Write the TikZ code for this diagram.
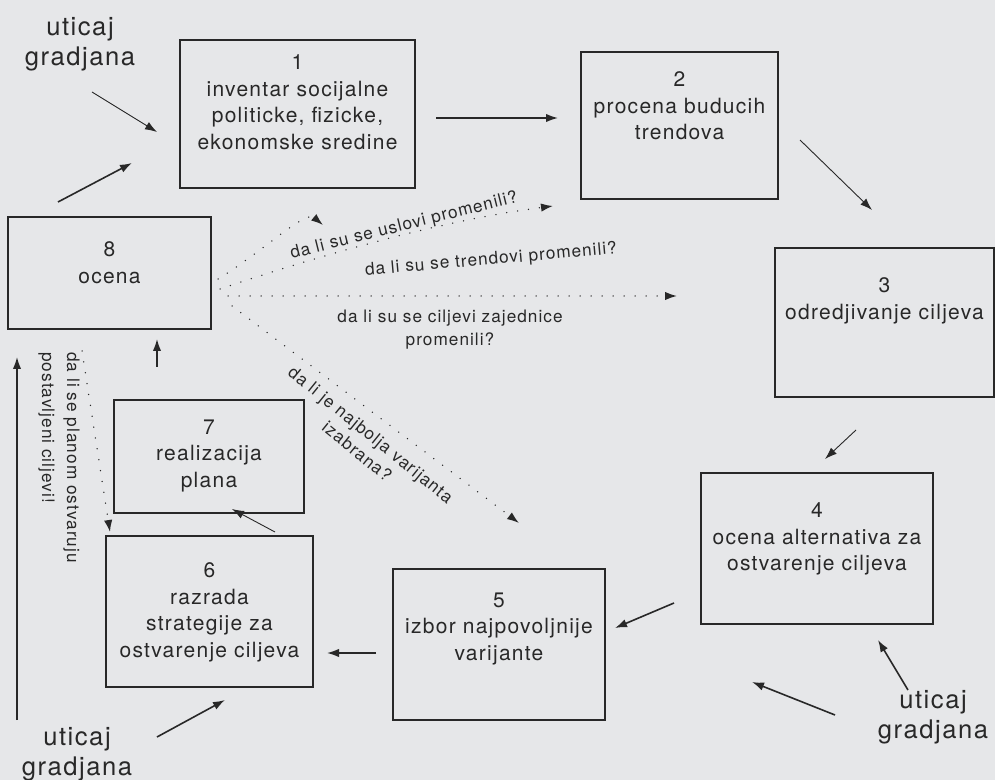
\documentclass[tikz,border=0pt]{standalone}
\usepackage{fontspec}
\setmainfont{TeX Gyre Heros}[LetterSpace=6]
\usetikzlibrary{positioning,arrows.meta}
\definecolor{paper}{RGB}{230,231,233}
\definecolor{ink}{RGB}{40,40,40}
\tikzset{%
    stage/.style={%
        draw=ink, line width=0.6pt, inner sep=0pt
    },
    stagetext/.style={%
        text=ink, align=center, inner sep=0pt,
        font=\fontsize{10.5}{13.3}\selectfont
    },
    citizens/.style={%
        text=ink, align=center, inner sep=0pt,
        font=\fontsize{12.8}{15}\selectfont
    },
    query/.style={%
        text=ink, inner sep=0pt, font=\fontsize{8.6}{11.5}\selectfont
    },
    flow/.style={%
        draw=ink, line width=0.8pt, -{Latex[length=6pt,width=4.2pt]}
    },
    thinflow/.style={%
        flow, line width=0.45pt
    },
    dots/.style={%
        draw=ink, line width=0.75pt, line cap=round,
        dash pattern=on 0pt off 5.5pt, -{Latex[length=6pt,width=4.2pt]}
    }
}

\begin{document}
\begin{tikzpicture}[x=0.5pt, y=-0.5pt]
    \fill[paper] (0,0) rectangle (995,780);
    \useasboundingbox (0,0) rectangle (995,780);

    % stages
    \node[stage, minimum width=117.5pt, minimum height=74pt] (inventar) at (297.5,114) {};
    \node[stage, minimum width=98.5pt, minimum height=73.5pt] (trendovi) at (679.5,125.5) {};
    \node[stage, minimum width=109.5pt, minimum height=74.5pt] (ciljevi) at (884.5,322.5) {};
    \node[stage, minimum width=116pt, minimum height=75.5pt] (alternative) at (817,548.5) {};
    \node[stage, minimum width=106pt, minimum height=75.5pt] (izbor) at (499,644.5) {};
    \node[stage, minimum width=103.5pt, minimum height=75.5pt] (razrada) at (209.5,611.5) {};
    \node[stage, minimum width=95pt, minimum height=56.5pt] (realizacija) at (209,456.5) {};
    \node[stage, minimum width=101.5pt, minimum height=56pt] (ocena) at (109.5,273) {};

    \node[stagetext, below=7.5pt of inventar.north] (inventar-t)
        {1\\inventar socijalne\\politicke, fizicke,\\ekonomske sredine};
    \node[stagetext, below=10pt of trendovi.north] (trendovi-t)
        {2\\procena buducih\\trendova};
    \node[stagetext, below=15pt of ciljevi.north] (ciljevi-t)
        {3\\odredjivanje ciljeva};
    \node[stagetext, below=15pt of alternative.north] (alternative-t)
        {4\\ocena alternativa za\\ostvarenje ciljeva};
    \node[stagetext, below=12pt of izbor.north] (izbor-t)
        {5\\izbor najpovoljnije\\varijante};
    \node[stagetext, below=13.5pt of razrada.north] (razrada-t)
        {6\\razrada\\strategije za\\ostvarenje ciljeva};
    \node[stagetext, below=10pt of realizacija.north] (realizacija-t)
        {7\\realizacija\\plana};
    \node[stagetext, below=12.5pt of ocena.north] (ocena-t)
        {8\\ocena};

    % uticaj gradjana
    \node[citizens] (uticaj-a) at (80,44) {uticaj\\gradjana};
    \node[citizens] (uticaj-b) at (77,754) {uticaj\\gradjana};
    \node[citizens] (uticaj-c) at (933,717) {uticaj\\gradjana};

    % questions
    \node[query, rotate=14] (q-uslovi) at (404,226) {da li su se uslovi promenili?};
    \node[query, rotate=5] (q-trendovi) at (491,260) {da li su se trendovi promenili?};
    \node[query, align=center] (q-ciljevi) at (450,330)
        {da li su se ciljevi zajednice\\promenili?};
    \node[query, align=center, rotate=-39, font=\fontsize{8.6}{10.8}\selectfont]
        (q-varijanta) at (364,443) {da li je najbolja varijanta\\izabrana?};
    \node[query, align=left, rotate=-90, anchor=north west,
        font=\fontsize{8.6}{12.5}\selectfont]
        (q-planom) at (80,352) {da li se planom ostvaruju\\postavljeni ciljevi!};

    % arrow ends
    \coordinate (ua-s) at (92,92);    \coordinate (ua-e) at (157,132);
    \coordinate (oc-s) at (58,202);   \coordinate (oc-e) at (132,163);
    \coordinate (in-s) at (436,118);  \coordinate (in-e) at (558,118);
    \coordinate (tr-s) at (800,140);  \coordinate (tr-e) at (872,210);
    \coordinate (ci-s) at (856,430);  \coordinate (ci-e) at (825,459);
    \coordinate (al-s) at (674,603);  \coordinate (al-e) at (615,628);
    \coordinate (uc1-s) at (908,690); \coordinate (uc1-e) at (878,640);
    \coordinate (uc2-s) at (835,715); \coordinate (uc2-e) at (752,682);
    \coordinate (iz-s) at (376,653);  \coordinate (iz-e) at (327,653);
    \coordinate (ra-s) at (275,532);  \coordinate (ra-e) at (232,509);
    \coordinate (re-s) at (157,367);  \coordinate (re-e) at (157,339);
    \coordinate (ub-s) at (157,737);  \coordinate (ub-e) at (225,700);
    \coordinate (back-s) at (17,720); \coordinate (back-e) at (17,357);

    \coordinate (qu-s) at (218,279);  \coordinate (qu-e) at (323,225);
    \coordinate (qt-s) at (220,289);  \coordinate (qt-e) at (553,206);
    \coordinate (qc-s) at (228,296);  \coordinate (qc-e) at (677,296);
    \coordinate (qv-s) at (232,306);  \coordinate (qv-e) at (519,523);
    \coordinate (qp-s) at (82,351);   \coordinate (qp-e) at (110,532);

    \draw[thinflow] (ua-s) -- (ua-e);
    \draw[flow] (oc-s) -- (oc-e);
    \draw[flow] (in-s) -- (in-e);
    \draw[thinflow] (tr-s) -- (tr-e);
    \draw[thinflow] (ci-s) -- (ci-e);
    \draw[flow] (al-s) -- (al-e);
    \draw[flow] (uc1-s) -- (uc1-e);
    \draw[flow] (uc2-s) -- (uc2-e);
    \draw[flow] (iz-s) -- (iz-e);
    \draw[thinflow] (ra-s) -- (ra-e);
    \draw[flow] (re-s) -- (re-e);
    \draw[flow] (ub-s) -- (ub-e);
    \draw[flow] (back-s) -- (back-e);

    \draw[dots] (qu-s) .. controls (265,250) and (305,210) .. (qu-e);
    \draw[dots] (qt-s) .. controls (300,262) and (430,222) .. (qt-e);
    \draw[dots] (qc-s) -- (qc-e);
    \draw[dots] (qv-s) -- (qv-e);
    \draw[dots] (qp-s) -- (qp-e);
\end{tikzpicture}
\end{document}
